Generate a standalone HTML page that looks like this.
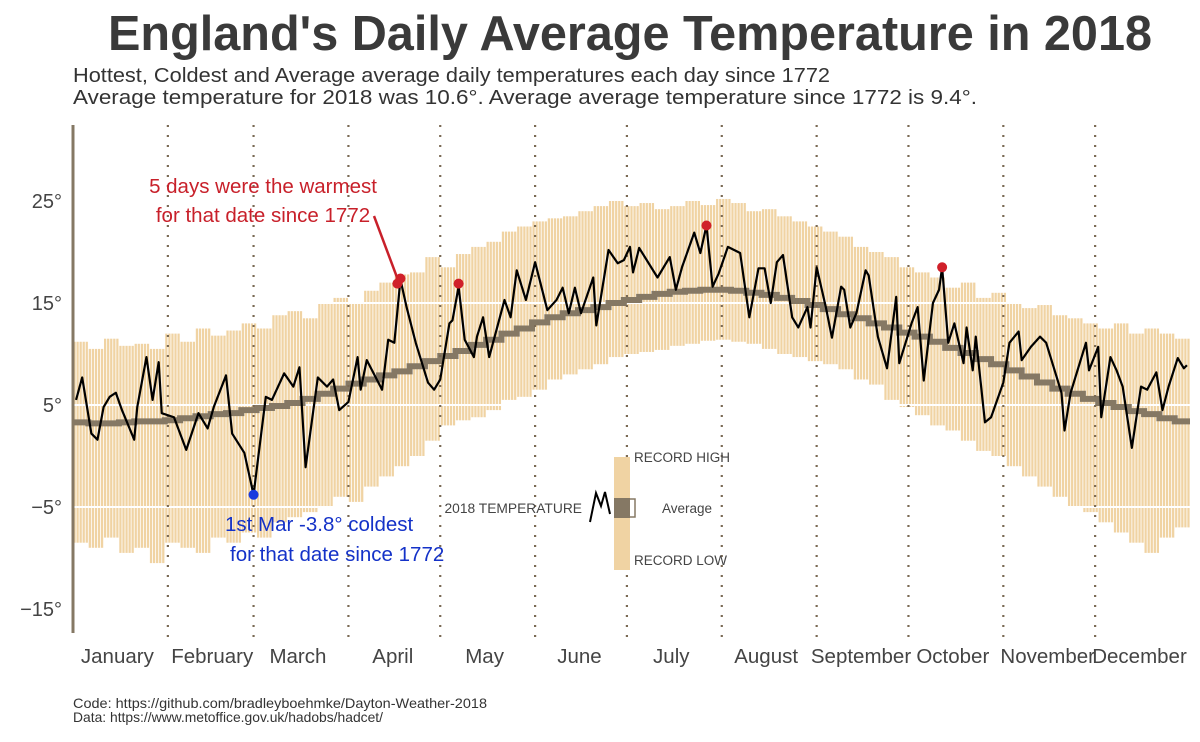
<!DOCTYPE html>
<html><head><meta charset="utf-8">
<style>
body{margin:0;background:#fff;}
svg{display:block;font-family:"Liberation Sans",sans-serif;}
</style></head>
<body>
<svg id="chart" width="1200" height="742" viewBox="0 0 1200 742">
<text x="630" y="50" text-anchor="middle" font-size="49" font-weight="bold" fill="#3a3a3a" textLength="1044" lengthAdjust="spacingAndGlyphs">England's Daily Average Temperature in 2018</text>
<text x="73" y="82" font-size="20.5" fill="#333" textLength="757" lengthAdjust="spacingAndGlyphs">Hottest, Coldest and Average average daily temperatures each day since 1772</text>
<text x="73" y="104" font-size="20.5" fill="#333" textLength="904" lengthAdjust="spacingAndGlyphs">Average temperature for 2018 was 10.6°. Average average temperature since 1772 is 9.4°.</text>
<g id="bars"></g>
<g id="grid"></g>
<g id="avg"></g>
<g id="months"></g>
<g id="line"></g>
<g id="yaxis"></g>
<g id="xaxis"></g>
<g>
<text x="263" y="193" text-anchor="middle" font-size="20.5" fill="#c8202a">5 days were the warmest</text>
<text x="263" y="222" text-anchor="middle" font-size="20.5" fill="#c8202a">for that date since 1772</text>
<line x1="374" y1="216" x2="398" y2="280" stroke="#c8202a" stroke-width="2.5"/>
</g>
<g>
<text x="225" y="531" font-size="20.5" fill="#1432c8">1st Mar -3.8° coldest</text>
<text x="230" y="561" font-size="20.5" fill="#1432c8">for that date since 1772</text>
</g>
<g id="dots"></g>
<g>
<rect x="614" y="457" width="16" height="113" fill="#f0d3a3"/>
<rect x="614" y="498" width="16" height="20" fill="#857864"/>
<rect x="629" y="499" width="6" height="18" fill="none" stroke="#857864" stroke-width="1.5"/>
<path d="M590 522 L596 493 L601 506 L605 492 L610 514" fill="none" stroke="#000" stroke-width="2"/>
<text x="634" y="462" font-size="13.5" fill="#444">RECORD HIGH</text>
<text x="662" y="513" font-size="13.5" fill="#444">Average</text>
<text x="634" y="565" font-size="13.5" fill="#444">RECORD LOW</text>
<text x="582" y="513" text-anchor="end" font-size="13.8" fill="#444">2018 TEMPERATURE</text>
</g>
<text x="73" y="708" font-size="14" fill="#333" textLength="414" lengthAdjust="spacingAndGlyphs">Code: https://github.com/bradleyboehmke/Dayton-Weather-2018</text>
<text x="73" y="722" font-size="14" fill="#333" textLength="310" lengthAdjust="spacingAndGlyphs">Data: https://www.metoffice.gov.uk/hadobs/hadcet/</text>
</svg>
<script>
const sampleDays=[0,5,10,15,20,25,30,35,40,45,50,55,60,65,70,75,80,85,90,95,100,105,110,115,120,125,130,135,140,145,150,155,160,165,170,175,180,185,190,195,200,205,210,215,220,225,230,235,240,245,250,255,260,265,270,275,280,285,290,295,300,305,310,315,320,325,330,335,340,345,350,355,360];
const recordHigh=[11.2,10.5,11.5,10.8,11.0,10.5,12.0,11.2,12.5,11.8,12.3,13.0,12.5,13.8,14.2,13.5,15.0,15.5,15.0,16.2,17.0,17.8,18.0,19.5,18.5,19.8,20.5,21.0,22.0,22.5,23.0,23.3,23.5,24.0,24.5,25.0,24.5,24.8,24.2,24.5,25.0,24.6,25.2,24.8,24.0,24.2,23.5,23.0,22.5,22.0,21.5,20.5,20.0,19.5,18.5,18.0,17.5,16.5,17.0,15.5,16.0,15.0,14.5,14.8,13.8,13.5,13.0,12.5,13.0,12.0,12.5,12.0,11.5];
const recordLow=[-8.5,-9.0,-8.0,-9.5,-9.0,-10.5,-8.5,-9.0,-9.5,-8.0,-8.5,-7.5,-8.0,-6.5,-6.0,-5.5,-5.0,-4.0,-4.5,-3.0,-2.0,-1.0,0.0,1.5,3.0,3.5,3.8,4.5,5.5,5.8,6.5,7.5,8.0,8.5,9.0,9.7,10.0,10.2,10.4,10.8,11.0,11.3,11.4,11.2,11.0,10.5,10.0,9.7,9.3,9.0,8.5,7.5,7.0,5.5,4.8,4.0,3.0,2.5,1.5,0.5,0.0,-1.0,-2.0,-3.0,-4.0,-5.0,-5.5,-6.5,-7.5,-8.5,-9.5,-8.0,-7.0];
const avgTemp=[3.3,3.2,3.2,3.3,3.4,3.4,3.5,3.7,3.9,4.1,4.2,4.5,4.7,4.9,5.2,5.6,6.1,6.6,7.1,7.5,7.9,8.3,8.8,9.3,9.8,10.3,10.9,11.4,12.0,12.5,13.1,13.6,14.0,14.3,14.6,15.0,15.3,15.6,15.9,16.1,16.2,16.3,16.3,16.2,16.0,15.8,15.5,15.2,14.8,14.4,13.9,13.5,13.0,12.6,12.1,11.7,11.2,10.6,10.1,9.5,9.0,8.4,7.8,7.2,6.6,6.1,5.6,5.2,4.8,4.4,4.1,3.7,3.4];
const days2018=[1,3,6,8,10,12,14,16,20,21,24,26,28,29,33,37,41,44,46,50,52,56,59,63,65,69,72,74,76,80,83,85,87,90,93,94,96,101,103,105,107,109,112,116,118,120,123,124,126,128,131,132,134,136,141,143,145,148,151,155,158,160,162,164,166,170,171,175,178,180,182,183,185,191,195,197,199,203,205,207,209,211,214,218,221,224,226,228,230,232,235,237,240,241,243,246,248,251,252,254,256,259,260,263,266,269,270,274,276,278,281,283,284,286,288,291,292,294,295,298,300,304,306,309,310,313,316,318,323,324,326,331,332,335,336,339,341,343,346,349,351,354,356,358,361,363,364];
const temp2018=[5.5,7.7,2.2,1.6,4.8,5.8,6.2,4.5,1.6,4.8,9.7,5.5,9.2,4.2,3.8,0.6,4.2,2.7,4.8,7.9,2.2,0.3,-3.8,5.8,5.5,8.1,6.8,8.7,-1.1,7.7,6.8,7.5,4.5,5.3,9.7,6.5,9.4,6.5,11.4,11.1,17.3,14.6,11.1,7.2,6.5,7.5,13.0,13.3,16.6,11.4,9.7,11.7,13.6,9.7,15.3,13.6,18.2,15.3,19.0,14.3,15.3,16.5,14.0,16.5,14.0,17.5,12.8,20.2,18.9,19.2,20.5,18.0,20.4,17.5,19.5,16.3,18.5,21.9,19.9,22.6,16.6,17.9,20.5,19.9,13.6,18.4,18.4,15.0,19.0,19.7,13.6,12.6,14.6,12.6,18.5,14.6,11.6,16.6,16.3,12.6,14.0,18.2,17.7,11.7,8.6,15.6,9.1,13.0,14.6,7.4,15.0,16.3,18.5,11.1,13.0,9.1,12.6,8.4,11.7,3.3,3.8,7.2,11.1,12.2,9.4,10.7,11.7,11.1,6.2,2.5,6.2,11.1,8.4,10.7,3.8,9.7,8.4,6.8,0.8,6.8,6.5,8.2,4.5,6.8,9.6,8.6,8.9];
const recordHotDays=[106,107,126,207,284];
const recordHotTemps=[16.9,17.4,16.9,22.6,18.5];
const recordColdDays=[59];
const recordColdTemps=[-3.8];
const yTicks=[25,15,5,-5,-15];
const gridTemps=[15,5,-5];
const monthNames=["January","February","March","April","May","June","July","August","September","October","November","December"];
const monthStarts=[0,31,59,90,120,151,181,212,243,273,304,334,365];

const NS="http://www.w3.org/2000/svg";
const X0=73,X1=1190;
const xS=d=>X0+d*(X1-X0)/365;
const yS=t=>405-(t-5)*10.2;
function mk(tag,attrs,parent){const e=document.createElementNS(NS,tag);for(const k in attrs)e.setAttribute(k,attrs[k]);parent.appendChild(e);return e;}

const gb=document.getElementById('bars');
sampleDays.forEach((d,i)=>{
  for(let k=0;k<5&&d+k<365;k++){
    const r=mk('rect',{x:xS(d+k)+0.4,y:yS(recordHigh[i]),width:(X1-X0)/365-0.8,height:yS(recordLow[i])-yS(recordHigh[i]),fill:'#f0d3a3'},gb);
    
    
  }
});
const gg=document.getElementById('grid');
gridTemps.forEach(t=>{
  const l=mk('line',{x1:X0,x2:X1,y1:yS(t),y2:yS(t),stroke:'#fff','stroke-width':2},gg);
  
  
});
const ga=document.getElementById('avg');
let ap='';
sampleDays.forEach((d,i)=>{ap+=(i?'L':'M')+xS(d)+' '+yS(avgTemp[i])+' L'+xS(Math.min(d+5,365))+' '+yS(avgTemp[i])+' ';});
const apath=mk('path',{d:ap,fill:'none',stroke:'#857864','stroke-width':6},ga);


const gm=document.getElementById('months');
monthStarts.slice(1,12).forEach(d=>{
  const l=mk('line',{x1:xS(d),x2:xS(d),y1:125,y2:640,stroke:'#7a6a55','stroke-width':2.2,'stroke-dasharray':'2 8'},gm);
  
  
});
const gl=document.getElementById('line');
const lp=days2018.map((d,i)=>(i?'L':'M')+xS(d)+' '+yS(temp2018[i])).join(' ');
const lpath=mk('path',{d:lp,fill:'none',stroke:'#000','stroke-width':2.2,'stroke-linejoin':'round'},gl);


const gd=document.getElementById('dots');
recordHotDays.forEach((d,i)=>{
  const c=mk('circle',{cx:xS(d),cy:yS(recordHotTemps[i]),r:5,fill:'#d0202a'},gd);
  
  
});
recordColdDays.forEach((d,i)=>{
  const c=mk('circle',{cx:xS(d),cy:yS(recordColdTemps[i]),r:5,fill:'#1a3adf'},gd);
  
  
});
const gy=document.getElementById('yaxis');
const ax=mk('line',{x1:X0,x2:X0,y1:125,y2:633,stroke:'#857864','stroke-width':3},gy);


yTicks.forEach(t=>{
  const tx=mk('text',{x:62,y:yS(t)+7,'text-anchor':'end','font-size':20,fill:'#444'},gy);
  tx.textContent=(t<0?'\u2212':'')+Math.abs(t)+'°';
  
  
});
const gx=document.getElementById('xaxis');
monthNames.forEach((m,i)=>{
  const tx=mk('text',{x:xS(monthStarts[i]+14.5),y:663,'text-anchor':'middle','font-size':20.5,fill:'#444'},gx);
  tx.textContent=m;
  
  
});
</script>
</body></html>
